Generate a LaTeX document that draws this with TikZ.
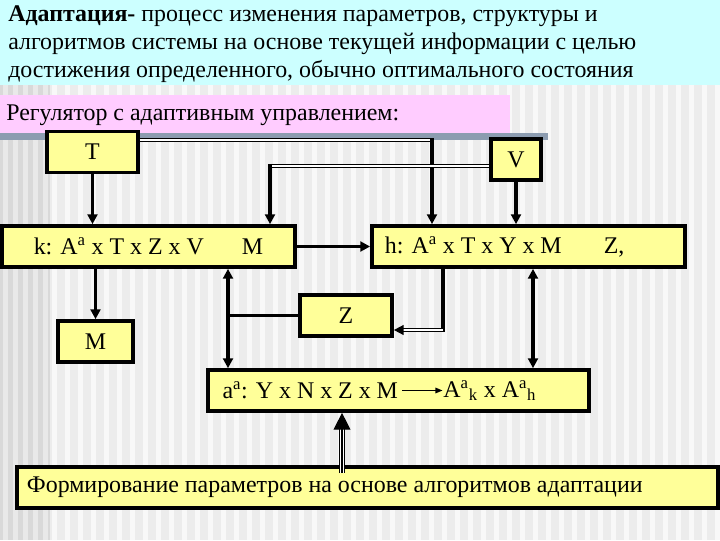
\documentclass[tikz,border=0pt]{standalone}
\usepackage{fontspec}
\setmainfont{Liberation Serif}
\usetikzlibrary{arrows.meta}
\usetikzlibrary{calc}
\usetikzlibrary{positioning}

\definecolor{slidecyan}{HTML}{CCFFFF}
\definecolor{slidepink}{HTML}{FFCCFF}
\definecolor{slidebar}{HTML}{8C9CB0}
\definecolor{boxyellow}{HTML}{FFFF99}
\definecolor{bgdark}{HTML}{ECECEC}
\definecolor{bglight}{HTML}{F8F8F8}
\definecolor{banddark}{HTML}{D9D9D9}
\definecolor{bandlight}{HTML}{E9E9E9}

\newcommand{\slidefont}{\fontsize{17}{20.2}\selectfont}
\newcommand{\blockfont}{\fontsize{17}{19}\selectfont}

\tikzset{
  blk/.style={draw=black,fill=boxyellow,line width=2.6pt,minimum height=1.025cm,inner sep=0pt,font=\blockfont},
  conn/.style={line width=2.6pt,-{Triangle[length=7pt,width=7pt]}},
  both/.style={line width=2.6pt,{Triangle[length=7pt,width=7pt]}-{Triangle[length=7pt,width=7pt]}},
  plain/.style={line width=2.6pt},
  dbl/.style={draw=black,line width=1.1pt,double=white,double distance=1pt},
}

\begin{document}
\begin{tikzpicture}[x=0.025cm,y=-0.025cm]
\useasboundingbox (0,0) rectangle (720,540);
% background of the slide
\fill[bgdark] (0,0) rectangle (720,540);
\foreach \sx in {0,13,...,715}
  \fill[bglight] (\sx,0) rectangle (\sx+5,540);
\fill[banddark] (0,0) rectangle (50,540);
\foreach \sx in {3,13,...,45}
  \fill[bandlight] (\sx,0) rectangle (\sx+5,540);
\fill[slidecyan] (0,0) rectangle (720,85);
\fill[slidepink] (0,95) rectangle (510,133);
\fill[slidebar] (0,133) rectangle (548,140);

\node[anchor=north west,align=left,inner sep=0pt,font=\slidefont] (title) at (8,5)
  {\textbf{Адаптация-} процесс изменения параметров, структуры и\\
   алгоритмов системы на основе текущей информации с целью\\
   достижения определенного, обычно оптимального состояния};
\node[anchor=west,inner sep=0pt,font=\slidefont] (sub) at (6,115) {Регулятор с адаптивным управлением:};

% blocks
\node[blk,minimum width=2.275cm] (T) at (92.5,152) {T};
\node[blk,minimum width=7.325cm] (k) at (148.5,246.5) {k: A\textsuperscript{a} x T x Z x V\hspace{0.95cm}M};
\node[blk,minimum width=1.25cm] (V) at (516,159.5) {V};
\node[blk,minimum width=7.825cm] (h) at (528.5,246.5) {\makebox[7.175cm][l]{h: A\textsuperscript{a} x T x Y x M\hspace{1.05cm}Z,}};
\node[blk,minimum width=1.875cm] (M) at (95.5,341.5) {M};
\node[blk,minimum width=2.3cm] (Z) at (346,315.5) {Z};
\node[blk,minimum width=9.525cm] (a) at (398.5,390.5) {};
\node[anchor=west,inner xsep=3pt,inner ysep=1pt,font=\blockfont] (aL) at (218,390.5) {a\textsuperscript{a}: Y x N x Z x M};
\node[right=1.0cm of aL,inner xsep=0.5pt,inner ysep=1pt,font=\blockfont] (aR) {A\textsuperscript{a}\textsubscript{k} x A\textsuperscript{a}\textsubscript{h}};
\node[blk,minimum width=17.525cm] (F) at (367.5,487.5) {\makebox[17.025cm][l]{Формирование параметров на основе алгоритмов адаптации}};

% connectors
\coordinate (tv) at (432,140);
\coordinate (vk) at (270,166);
\coordinate (lx) at (228,318);
\coordinate (hz) at (443,330);
\coordinate (rx) at (533,0);
\coordinate (fx) at (342,0);

\draw[conn] (T.south) -- (T.south |- k.north);
\draw[dbl] (T.east |- tv) -- (tv);
\draw[conn,shorten <=-1.5pt] (tv) -- (tv |- h.north);
\draw[dbl] (V.west |- vk) -- (vk);
\draw[conn,shorten <=-1.5pt] (vk) -- (vk |- k.north);
\draw[conn] (V.south) -- (V.south |- h.north);
\draw[conn] (k.east) -- (h.west);
\draw[conn] (M.north |- k.south) -- (M.north);
\draw[both] (lx |- k.south) -- (lx |- a.north);
\draw[plain] (Z.west) -- (Z.west -| lx);
\draw[plain,shorten >=-1.5pt] (hz |- h.south) -- (hz);
\draw[dbl,-{Triangle[length=7pt,width=7pt]}] (hz) -- (Z.east |- hz);
\draw[both] (rx |- h.south) -- (rx |- a.north);
\draw[line width=0.8pt,-{Triangle[length=5pt,width=4pt]}] (aL) -- (aR);

\draw[line width=4.2pt,shorten >=10pt] ($(fx |- F.north)+(0,8)$) -- (fx |- a.south);
\draw[white,line width=2.6pt,shorten >=10pt] ($(fx |- F.north)+(0,8)$) -- (fx |- a.south);
\draw[line width=0.8pt,-{Triangle[length=12pt,width=12pt]}] ($(fx |- F.north)+(0,8)$) -- (fx |- a.south);
\end{tikzpicture}
\end{document}
